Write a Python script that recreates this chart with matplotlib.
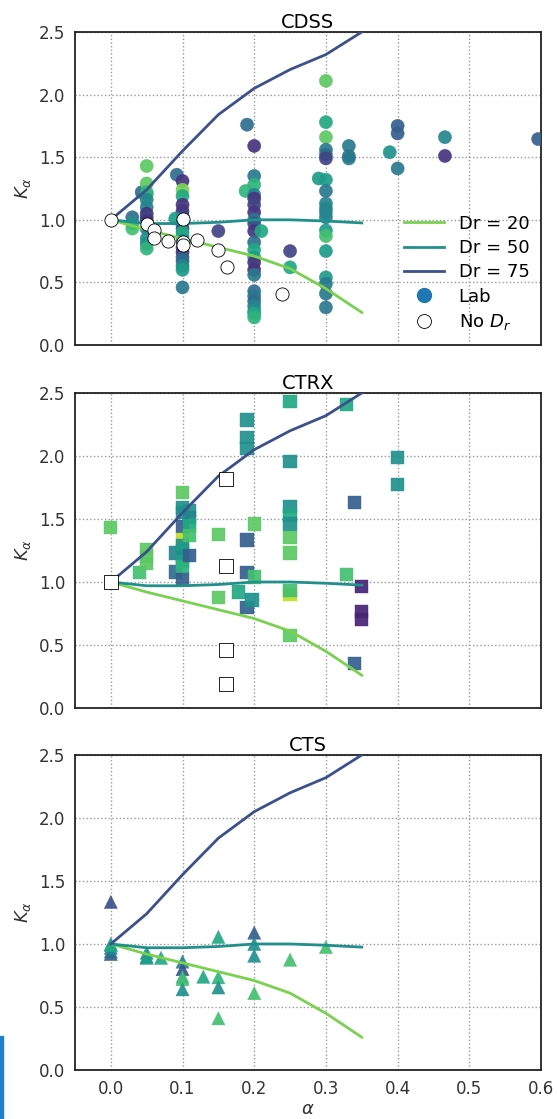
import matplotlib
matplotlib.use("Agg")
import matplotlib.pyplot as plt
from matplotlib.lines import Line2D
from matplotlib.patches import Rectangle

# model curves
alpha_model = [0.0, 0.05, 0.10, 0.15, 0.20, 0.25, 0.30, 0.35]
k_dr20 = [1.0, 0.92, 0.85, 0.78, 0.71, 0.61, 0.45, 0.26]
k_dr50 = [1.0, 0.97, 0.97, 0.98, 1.0, 1.0, 0.99, 0.975]
k_dr75 = [1.0, 1.24, 1.55, 1.84, 2.05, 2.20, 2.32, 2.50]

# CDSS lab points: alpha, K, Dr
cdss_a = [0.03, 0.03, 0.03, 0.043,
          0.05, 0.05, 0.05, 0.05, 0.05, 0.05, 0.05, 0.05, 0.05, 0.05, 0.05, 0.05, 0.05,
          0.092, 0.1, 0.1, 0.1, 0.1, 0.1, 0.1, 0.09, 0.1, 0.1, 0.1, 0.1, 0.1, 0.1, 0.1, 0.1, 0.1, 0.1, 0.1, 0.1,
          0.15,
          0.19, 0.2, 0.2, 0.2, 0.188, 0.2, 0.2, 0.2, 0.2, 0.2, 0.2, 0.2, 0.21, 0.2, 0.2, 0.2, 0.2, 0.2, 0.2,
          0.2, 0.2, 0.2, 0.2, 0.2, 0.2, 0.2,
          0.25, 0.25,
          0.3, 0.3, 0.3, 0.3, 0.3, 0.3, 0.29, 0.3, 0.3, 0.3, 0.3, 0.3, 0.3, 0.3, 0.3, 0.3, 0.3, 0.3, 0.3, 0.3,
          0.332, 0.332, 0.332, 0.389, 0.4, 0.4, 0.4, 0.466, 0.466, 0.596]
cdss_k = [1.02, 0.97, 0.93, 1.22,
          1.43, 1.29, 1.22, 1.2, 1.16, 1.1, 1.05, 1.02, 0.99, 0.93, 0.85, 0.81, 0.77,
          1.36, 1.31, 1.24, 1.19, 1.12, 1.07, 1.03, 1.01, 0.97, 0.93, 0.9, 0.87, 0.83, 0.78, 0.74, 0.7, 0.67, 0.63, 0.6, 0.46,
          0.91,
          1.76, 1.59, 1.35, 1.28, 1.23, 1.2, 1.17, 1.12, 1.06, 1.0, 0.97, 0.91, 0.91, 0.82, 0.76, 0.7, 0.66, 0.6, 0.56,
          0.43, 0.39, 0.35, 0.31, 0.27, 0.25, 0.22,
          0.75, 0.62,
          2.11, 1.78, 1.66, 1.56, 1.52, 1.49, 1.33, 1.32, 1.23, 1.13, 1.09, 1.06, 1.02, 0.915, 0.87, 0.75, 0.54, 0.49, 0.41, 0.3,
          1.59, 1.51, 1.49, 1.54, 1.75, 1.69, 1.41, 1.66, 1.51, 1.645]
cdss_dr = [65, 50, 30, 65,
           25, 25, 35, 35, 55, 55, 85, 80, 85, 60, 50, 50, 35,
           65, 85, 20, 40, 85, 85, 80, 45, 70, 75, 40, 40, 60, 75, 85, 70, 65, 55, 45, 60,
           80,
           65, 85, 60, 35, 35, 55, 85, 80, 85, 60, 75, 85, 40, 65, 40, 45, 85, 85, 60,
           65, 60, 65, 55, 50, 40, 35,
           80, 40,
           25, 40, 25, 60, 65, 80, 45, 45, 60, 55, 55, 55, 55, 45, 30, 45, 45, 60, 60, 60,
           60, 60, 60, 50, 70, 70, 60, 55, 85, 70]
cdss_nodr_a = [0.0, 0.05, 0.06, 0.06, 0.08, 0.1, 0.1, 0.1, 0.12, 0.15, 0.162, 0.239]
cdss_nodr_k = [1.0, 0.97, 0.915, 0.853, 0.827, 1.01, 0.82, 0.8, 0.84, 0.76, 0.62, 0.41]

# CTRX
ctrx_a = [0.0, 0.04, 0.05, 0.05, 0.05, 0.09, 0.09,
          0.1, 0.1, 0.1, 0.1, 0.1, 0.1, 0.1, 0.1, 0.1, 0.1, 0.1,
          0.11, 0.11, 0.11, 0.11, 0.11,
          0.15, 0.15, 0.178, 0.19, 0.19, 0.19, 0.19, 0.19, 0.19, 0.197, 0.2, 0.2,
          0.25, 0.25, 0.25, 0.25, 0.25, 0.25, 0.25, 0.25, 0.25, 0.25,
          0.329, 0.329, 0.34, 0.34, 0.35, 0.35, 0.35, 0.4, 0.4]
ctrx_k = [1.434, 1.077, 1.26, 1.2, 1.15, 1.23, 1.08,
          1.71, 1.59, 1.55, 1.44, 1.34, 1.29, 1.25, 1.2, 1.16, 1.12, 1.02,
          1.57, 1.51, 1.45, 1.37, 1.21,
          1.38, 0.876, 0.92, 2.286, 2.15, 2.06, 1.333, 1.074, 0.80, 0.857, 1.46, 1.04,
          2.43, 1.955, 1.6, 1.53, 1.46, 1.35, 1.23, 0.9, 0.93, 0.574,
          2.41, 1.06, 1.63, 0.355, 0.963, 0.765, 0.70, 1.99, 1.775]
ctrx_dr = [25, 30, 25, 25, 25, 55, 65,
           25, 50, 50, 70, 10, 50, 45, 50, 45, 35, 70,
           50, 55, 40, 30, 70,
           25, 25, 40, 50, 50, 50, 70, 70, 70, 50, 25, 30,
           40, 50, 50, 40, 50, 25, 25, 10, 30, 25,
           40, 30, 70, 70, 90, 90, 90, 50, 50]
ctrx_nodr_a = [0.0, 0.16, 0.16, 0.16, 0.16]
ctrx_nodr_k = [1.0, 1.815, 1.13, 0.46, 0.19]

# CTS
cts_a = [0.0, 0.0, 0.0, 0.0, 0.0, 0.0,
         0.05, 0.05, 0.05, 0.07, 0.1, 0.1, 0.1, 0.1, 0.1, 0.129,
         0.15, 0.15, 0.15, 0.15, 0.2, 0.2, 0.2, 0.2, 0.25, 0.3]
cts_k = [1.334, 0.92, 0.94, 0.97, 1.0, 0.99,
         0.93, 0.9, 0.89, 0.89, 0.86, 0.8, 0.74, 0.72, 0.64, 0.74,
         1.056, 0.735, 0.655, 0.41, 1.09, 1.0, 0.907, 0.61, 0.875, 0.976]
cts_dr = [75, 70, 65, 55, 45, 40,
          45, 45, 45, 40, 55, 75, 35, 30, 50, 40,
          40, 35, 50, 30, 70, 50, 50, 30, 30, 30]

panels = [
    ("CDSS", "o", cdss_a, cdss_k, cdss_dr, cdss_nodr_a, cdss_nodr_k),
    ("CTRX", "s", ctrx_a, ctrx_k, ctrx_dr, ctrx_nodr_a, ctrx_nodr_k),
    ("CTS", "^", cts_a, cts_k, cts_dr, [], []),
]

plt.rcParams['font.family'] = ['DejaVu Sans']
fig = plt.figure(figsize=(5.57, 11.19), dpi=100)

cmap = plt.get_cmap("viridis_r")
c20, c50, c75 = cmap(0.2), cmap(0.5), cmap(0.75)

# axes boxes in figure fractions (left, bottom, width, height)
boxes = [(0.1346, 0.6917, 0.8367, 0.2797),
         (0.1346, 0.3673, 0.8367, 0.2815),
         (0.1346, 0.0438, 0.8367, 0.2815)]

for i, (name, mk, a, k, dr, na, nk) in enumerate(panels):
    ax = fig.add_axes(boxes[i])
    ax.scatter(a, k, c=dr, cmap="viridis_r", vmin=0, vmax=100, marker=mk,
               s=90, alpha=0.92, edgecolors="face", linewidths=0.3, zorder=3)
    ax.plot(alpha_model, k_dr20, color=c20, lw=2, zorder=4)
    ax.plot(alpha_model, k_dr50, color=c50, lw=2, zorder=4)
    ax.plot(alpha_model, k_dr75, color=c75, lw=2, zorder=4)
    if na:
        ax.scatter(na, nk, marker=mk, s=90, facecolors="white",
                   edgecolors="black", linewidths=0.6, zorder=5)
    ax.set_xlim(-0.05, 0.6)
    ax.set_ylim(0, 2.5)
    ax.set_xticks([0.0, 0.1, 0.2, 0.3, 0.4, 0.5, 0.6])
    ax.set_yticks([0.0, 0.5, 1.0, 1.5, 2.0, 2.5])
    ax.grid(True, ls=":", color="#999999", lw=1)
    ax.set_axisbelow(True)
    ax.tick_params(length=0, labelsize=12, colors="#333333", pad=7)
    for sp in ax.spines.values():
        sp.set_color("#222222")
        sp.set_linewidth(1.3)
    ax.set_title(name, fontsize=14, pad=2)
    ax.set_ylabel(r"$K_\alpha$", fontsize=13, color="#333333")
    if i < 2:
        ax.set_xticklabels([])
    else:
        ax.set_xlabel(r"$\alpha$", fontsize=13, color="#333333", labelpad=2)
    if i == 0:
        handles = [Line2D([], [], color=c20, lw=2),
                   Line2D([], [], color=c50, lw=2),
                   Line2D([], [], color=c75, lw=2),
                   Line2D([], [], ls="none", marker="o", markersize=10,
                          color="#1f77b4"),
                   Line2D([], [], ls="none", marker="o", markersize=10,
                          markerfacecolor="white", markeredgecolor="black",
                          markeredgewidth=0.6)]
        labels = ["Dr = 20", "Dr = 50", "Dr = 75", "Lab", r"No $D_r$"]
        ax.legend(handles, labels, loc="lower right", frameon=False,
                  fontsize=13, handlelength=2.2, labelspacing=0.35,
                  handletextpad=0.8, bbox_to_anchor=(1.01, -0.01))

# blue strip at the left edge of the screenshot
fig.patches.append(Rectangle((0, 0), 0.006, 0.074, transform=fig.transFigure,
                             color="#1f7fcf", zorder=10))

fig.savefig("out.png", dpi=100)
